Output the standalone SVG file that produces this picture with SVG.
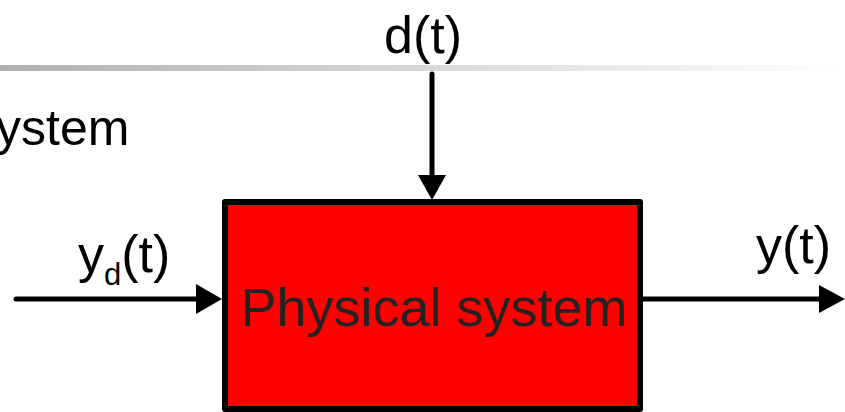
<svg xmlns="http://www.w3.org/2000/svg" width="845" height="412" viewBox="0 0 845 412">
<style>
text{font-family:"Liberation Sans",Arial,sans-serif;fill:#000}
.lbl{font-size:52px}
.conn{stroke:#000;stroke-width:5;fill:none;stroke-linecap:round}
.head{fill:#000}
</style>
<defs>
<linearGradient id="rule" x1="0" y1="0" x2="1" y2="0">
<stop offset="0" stop-color="#b0b0b0"/>
<stop offset="1" stop-color="#ffffff"/>
</linearGradient>
</defs>
<rect x="0" y="65" width="845" height="6" fill="url(#rule)"/>
<text x="-4" y="145" style="font-size:50px">ystem</text>
<g id="connectors">
<line class="conn" x1="432" y1="74" x2="432" y2="178"/>
<polygon class="head" points="418,175 446,175 432,200"/>
<line class="conn" x1="16" y1="299" x2="200" y2="299"/>
<polygon class="head" points="196,284 196,314 222,299"/>
<line class="conn" x1="643" y1="299" x2="822" y2="299" style="stroke-linecap:butt"/>
<polygon class="head" points="819,285 819,313 845,299"/>
</g>
<g id="node-physical-system">
<rect x="225" y="202" width="415" height="207" fill="#ff0000" stroke="#000" stroke-width="6" stroke-linejoin="round"/>
<text x="434" y="326" text-anchor="middle" style="font-size:54px;fill:#222">Physical system</text>
</g>
<g id="label-d">
<text class="lbl" x="423" y="53" text-anchor="middle">d(t)</text>
</g>
<g id="label-yd">
<text class="lbl" x="78" y="272">y<tspan style="font-size:31px" dy="13">d</tspan><tspan dy="-13">(t)</tspan></text>
</g>
<g id="label-y">
<text class="lbl" x="756" y="263">y(t)</text>
</g>
</svg>
